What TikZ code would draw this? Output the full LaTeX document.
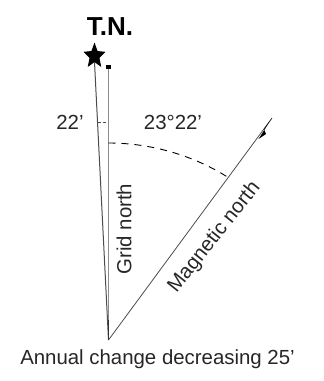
\documentclass[tikz,border=0pt]{standalone}
\usepackage{fontspec}
\setmainfont{Liberation Sans}
\usetikzlibrary{calc,shapes.geometric}
\tikzset{
  lbl/.style={inner sep=0pt,font=\fontsize{20.4}{23}\selectfont,text=black!85},
  thinline/.style={draw=black!70,line width=0.8pt},
  gridline/.style={draw=black!45,line width=1.8pt},
  dashline/.style={draw=black,line width=0.9pt,dash pattern=on 7pt off 6pt},
}
\begin{document}
\begin{tikzpicture}[x=1pt,y=-1pt]
\useasboundingbox (0,0) rectangle (324,381);
\coordinate (apex) at (108.5,340);
\coordinate (magtip) at (272,118);
\node[star,star points=5,star point ratio=2.2,fill=black,draw=none,minimum size=27pt,inner sep=0pt,xscale=0.85] (star) at (94.5,56) {};
\node[fill=black,inner sep=0pt,minimum width=5pt,minimum height=4pt] (gridhead) at (108.5,67) {};
\coordinate (starfoot) at (94.5,62);
\draw[thinline,line width=1pt] (starfoot) -- (apex);
\draw[gridline] (gridhead.south) -- (108.5,322);
\draw[draw=black!80,line width=1pt] (108.5,320) -- (apex);
\draw[thinline] (apex) -- (magtip);
\fill[black] (magtip) -- (258.5,139) -- (266,134) -- (264,129) -- cycle;
\coordinate (arcstart) at (108.5,143);
\draw[dashline] (arcstart) .. controls (152,143) and (195,156) .. (229,178);
\draw[draw=black!70,line width=0.6pt,dash pattern=on 3pt off 2pt] (98,122) -- (106,122);
\node[lbl,font=\fontsize{26}{30}\selectfont\bfseries,text=black] (tn) at (110,27) {T.N.};
\node[lbl] (a) at (70,122) {22\char39};
\node[lbl] (b) at (173,122) {23°22\char39};
\node[lbl,rotate=90] (c) at (124,229) {Grid north};
\node[lbl,rotate=51.5] (d) at (214.5,237.5) {Magnetic north};
\node[lbl] (e) at (157.5,359) {Annual change decreasing 25\char39};
\end{tikzpicture}
\end{document}
